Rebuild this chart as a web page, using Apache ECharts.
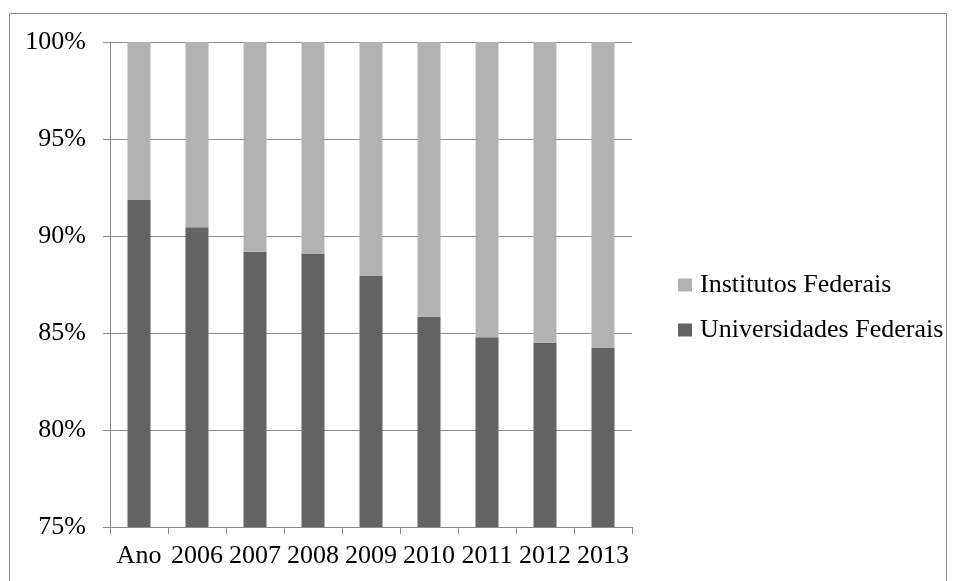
<!DOCTYPE html>
<html>
<head>
<meta charset="utf-8">
<script src="https://cdn.jsdelivr.net/npm/echarts@6/dist/echarts.min.js"></script>
<style>
  html, body { margin: 0; padding: 0; background: #fff; }
  #main { width: 955px; height: 581px; }
</style>
</head>
<body>
<div id="main"></div>
<script>
// categories on the x axis
var anos = ['Ano', '2006', '2007', '2008', '2009', '2010', '2011', '2012', '2013'];
// share (%) of Universidades Federais
var universidades = [91.86, 90.45, 89.19, 89.07, 87.94, 85.84, 84.78, 84.50, 84.23];
// share (%) of Institutos Federais (top part of each bar)
var institutos = [8.14, 9.55, 10.81, 10.93, 12.06, 14.16, 15.22, 15.50, 15.77];
// y axis range
var yMin = 75, yMax = 100, yStep = 5;

var chart = echarts.init(document.getElementById('main'));
var fonte = 'Liberation Serif';

var option = {
  animation: false,
  textStyle: { fontFamily: fonte },
  graphic: [{
    type: 'rect',
    shape: { x: 9.5, y: 13.5, width: 937, height: 600 },
    style: { fill: 'none', stroke: '#8c8c8c', lineWidth: 1 },
    silent: true
  }],
  grid: { left: 110, right: 323, top: 42, bottom: 54 },
  legend: {
    orient: 'vertical',
    left: 673,
    top: 267,
    itemWidth: 14,
    itemHeight: 13,
    itemGap: 19,
    icon: 'rect',
    data: ['Institutos Federais', 'Universidades Federais'],
    textStyle: { fontFamily: fonte, fontSize: 26, color: '#000', padding: [0, 0, 0, 3] }
  },
  xAxis: {
    type: 'category',
    data: anos,
    axisLine: { lineStyle: { color: '#8c8c8c' } },
    axisTick: { show: true, length: 7, lineStyle: { color: '#8c8c8c' } },
    axisLabel: { color: '#000', fontSize: 26, fontFamily: fonte, margin: 16, interval: 0 }
  },
  yAxis: {
    type: 'value',
    min: yMin,
    max: yMax,
    interval: yStep,
    axisLine: { show: true, lineStyle: { color: '#8c8c8c' } },
    axisTick: { show: true, length: 7, lineStyle: { color: '#8c8c8c' } },
    splitLine: { lineStyle: { color: '#8c8c8c' } },
    axisLabel: { color: '#000', fontSize: 26, fontFamily: fonte, margin: 24, formatter: '{value}%' }
  },
  series: [
    {
      name: 'Universidades Federais',
      type: 'bar',
      stack: 'total',
      barWidth: 23,
      data: universidades,
      itemStyle: { color: '#636363' }
    },
    {
      name: 'Institutos Federais',
      type: 'bar',
      stack: 'total',
      barWidth: 23,
      data: institutos,
      itemStyle: { color: '#b2b2b2' }
    }
  ]
};

option && chart.setOption(option);
</script>
</body>
</html>
